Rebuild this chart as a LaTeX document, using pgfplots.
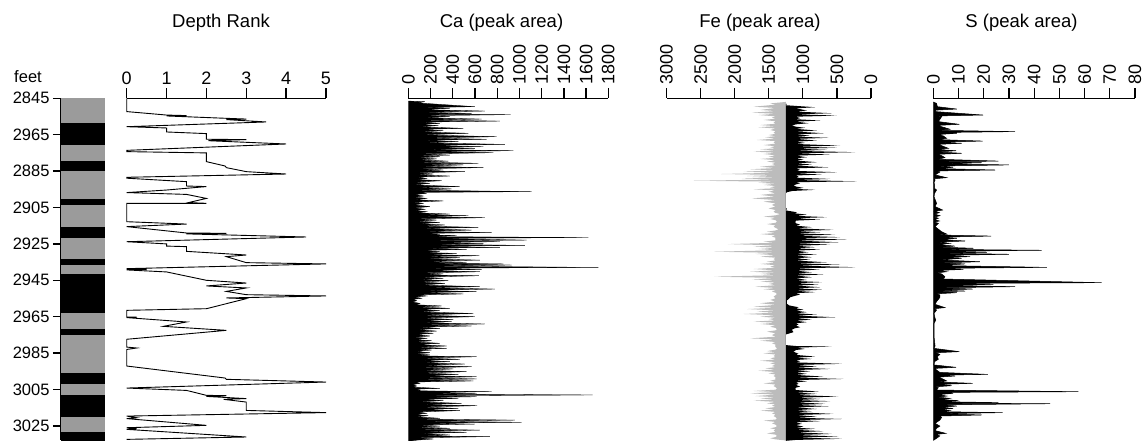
\documentclass[border=0pt]{standalone}
\usepackage{pgfplots}
\pgfplotsset{compat=1.18}
\usepackage{fontspec}
\setmainfont{Liberation Sans}
\definecolor{litho}{RGB}{155,155,155}
\definecolor{fegray}{RGB}{188,188,188}
\pgfplotsset{
  strip/.style={
    anchor=north west, scale only axis, height=341.7pt,
    ymin=2845, ymax=3032.75, y dir=reverse,
    axis x line*=top, axis y line=none,
    x axis line style={line width=1.3pt,-},
    tick align=outside, major tick length=10pt,
    tick style={line width=1.3pt, black},
    ytick=\empty,
    xticklabel style={font=\fontsize{18}{19}\selectfont},
    /pgf/number format/assume math mode=true,
    /pgf/number format/1000 sep={},
  },
  rotlab/.style={xticklabel style={rotate=90, anchor=west}},
}
\begin{document}
\begin{tikzpicture}
% ---------------- lithology column
\begin{axis}[at={(61pt,341.7pt)}, anchor=north west, scale only axis,
  width=44pt, height=341.7pt, xmin=0, xmax=1,
  ymin=2845, ymax=3032.75, y dir=reverse,
  axis y line*=left, axis x line=none,
  y axis line style={line width=1.6pt,-},
  tick align=outside, major tick length=8pt,
  tick style={line width=1.5pt, black},
  xtick=\empty,
  ytick={2845,2865,2885,2905,2925,2945,2965,2985,3005,3025},
  yticklabels={2845,2965,2885,2905,2925,2945,2965,2985,3005,3025},
  yticklabel style={font=\fontsize{16.5}{18}\selectfont},
  clip=true]
\addplot[fill=litho, draw=none] coordinates {(0,2845) (1,2845) (1,3034) (0,3034)} -- cycle;
\addplot[fill=black, draw=none] coordinates {(0,2858.4) (1,2858.4) (1,2870.6) (0,2870.6)} -- cycle;
\addplot[fill=black, draw=none] coordinates {(0,2879.4) (1,2879.4) (1,2885.2) (0,2885.2)} -- cycle;
\addplot[fill=black, draw=none] coordinates {(0,2900.3) (1,2900.3) (1,2903.5) (0,2903.5)} -- cycle;
\addplot[fill=black, draw=none] coordinates {(0,2915.7) (1,2915.7) (1,2921.7) (0,2921.7)} -- cycle;
\addplot[fill=black, draw=none] coordinates {(0,2933.1) (1,2933.1) (1,2936.4) (0,2936.4)} -- cycle;
\addplot[fill=black, draw=none] coordinates {(0,2941.8) (1,2941.8) (1,2963.2) (0,2963.2)} -- cycle;
\addplot[fill=black, draw=none] coordinates {(0,2972.0) (1,2972.0) (1,2975.3) (0,2975.3)} -- cycle;
\addplot[fill=black, draw=none] coordinates {(0,2996.1) (1,2996.1) (1,3002.1) (0,3002.1)} -- cycle;
\addplot[fill=black, draw=none] coordinates {(0,3008.2) (1,3008.2) (1,3020.3) (0,3020.3)} -- cycle;
\addplot[fill=black, draw=none] coordinates {(0,3028.6) (1,3028.6) (1,3034) (0,3034)} -- cycle;
\end{axis}

% ---------------- depth rank
\begin{axis}[strip, at={(126.7pt,341.7pt)}, width=199.3pt,
  xmin=0, xmax=5, xtick={0,1,2,3,4,5}, clip=false]
\addplot[black, line width=0.9pt] table {
0 2845.0
0 2852.3
1.0 2854.2
1.5 2854.5
1.0 2854.7
2.5 2856.0
3.0 2856.4
2.5 2856.7
3.5 2858.0
0 2860.6
1.0 2861.3
1.0 2863.5
2.0 2864.4
2.0 2867.5
3.0 2867.7
2.05 2868.3
4.0 2870.1
0 2873.6
0 2874.3
2.0 2875.0
2.0 2879.8
2.47 2882.2
2.5 2883.1
3.0 2885.3
4.0 2886.6
0 2888.4
0 2888.9
1.5 2890.8
1.5 2893.2
2.0 2893.5
1.0 2895.4
0 2896.8
1.5 2897.8
2.0 2900.0
1.55 2902.3
2.0 2902.7
0 2902.7
0 2912.8
1.5 2914.1
0 2915.5
1.5 2919.0
2.5 2919.2
1.5 2919.5
4.5 2921.2
0 2923.8
1.0 2925.0
1.0 2926.2
1.5 2926.5
1.5 2929.1
3.0 2931.1
2.5 2932.0
3.0 2935.3
5.0 2936.0
0 2938.6
0.5 2939.0
0 2939.3
1.0 2940.4
2.0 2945.0
3.0 2946.5
2.0 2948.1
3.0 2949.2
2.5 2951.1
3.0 2952.9
5.0 2953.6
2.5 2954.7
3.0 2955.1
2.0 2960.6
0 2961.5
0 2965.2
0.25 2965.2
0 2965.5
1.5 2967.9
0.92 2970.3
2.5 2972.5
0 2977.4
0 2981.7
0.25 2982.2
0 2983.0
0 2992.1
2.47 2998.7
2.5 2999.4
5.0 3000.9
0 3004.2
1.5 3005.5
2.0 3008.2
2.5 3008.4
2.0 3008.8
3.0 3010.0
2.43 3010.4
3.0 3011.9
3.0 3016.5
5.0 3017.7
0 3019.6
0.25 3020.5
0 3021.0
2.0 3024.7
0 3026.0
0.25 3026.5
0 3026.9
3.0 3031.1
0 3032.4
};
\end{axis}

% ---------------- Ca
\begin{axis}[strip, rotlab, at={(408.3pt,341.7pt)}, width=200pt,
  xmin=0, xmax=1800, xtick={0,200,...,1800}]
\addplot[fill=black, draw=black, line width=0.3pt] table {
0 2846.5
150 2846.85
80 2847.5
600 2849.6
120 2850.1
375 2850.5
110 2851.2
690 2852.0
120 2852.6
570 2853.3
110 2853.7
920 2854.0
120 2854.5
375 2855.1
110 2855.7
660 2856.4
120 2857.0
825 2857.5
110 2858.1
285 2858.8
100 2859.4
270 2860.0
100 2860.7
495 2861.5
110 2862.1
315 2862.8
120 2863.5
540 2864.2
130 2865.1
795 2866.1
140 2866.8
705 2867.5
130 2868.1
450 2868.8
140 2869.5
870 2870.3
150 2870.9
675 2871.6
140 2872.0
600 2872.5
150 2873.1
945 2873.8
140 2874.3
765 2874.9
120 2875.5
375 2876.2
100 2876.6
285 2877.1
90 2877.7
255 2878.3
90 2878.9
360 2879.5
100 2880.1
630 2880.7
110 2881.1
495 2881.6
100 2882.3
675 2883.1
90 2883.7
315 2884.4
90 2884.8
510 2885.3
80 2885.9
225 2886.6
80 2887.1
375 2887.7
70 2888.3
165 2889.0
70 2889.6
300 2890.3
60 2891.0
195 2891.7
60 2892.6
465 2893.5
70 2894.1
390 2894.8
70 2895.5
1110 2896.3
70 2896.7
165 2897.2
60 2897.9
135 2898.7
60 2899.3
165 2900.0
60 2900.7
315 2901.4
50 2902.0
135 2902.7
60 2903.6
195 2904.5
60 2905.2
150 2906.0
60 2906.6
165 2907.3
70 2907.9
375 2908.6
90 2909.0
540 2909.5
100 2910.0
690 2910.6
90 2911.2
255 2911.9
80 2912.5
285 2913.2
100 2913.9
330 2914.6
110 2915.2
630 2915.9
120 2916.6
570 2917.4
120 2918.1
750 2918.8
110 2919.2
285 2919.7
120 2920.0
435 2920.4
130 2921.0
1620 2921.5
140 2922.0
1065 2922.9
150 2923.3
825 2923.8
150 2924.2
675 2924.7
150 2925.2
1050 2925.8
150 2926.3
825 2926.9
140 2927.4
525 2928.0
120 2928.6
285 2929.3
110 2929.7
435 2930.2
130 2930.8
640 2931.5
130 2932.0
465 2932.6
130 2933.2
645 2933.9
140 2934.5
525 2935.1
140 2935.5
855 2936.0
140 2936.2
930 2936.6
150 2937.2
1710 2937.9
150 2938.4
660 2939.0
140 2939.6
645 2940.3
130 2940.9
315 2941.5
120 2942.0
636 2942.5
120 2943.2
315 2943.9
110 2944.5
360 2945.2
110 2945.9
330 2946.7
120 2947.6
645 2948.5
130 2949.1
780 2949.8
130 2950.5
615 2951.2
120 2951.8
495 2952.5
90 2953.0
165 2953.6
60 2954.2
120 2954.9
40 2955.5
75 2956.2
40 2956.9
105 2957.7
60 2958.4
300 2959.1
90 2959.7
375 2960.4
100 2961.0
285 2961.7
110 2962.4
585 2963.2
120 2964.1
600 2965.0
120 2965.7
405 2966.5
110 2967.1
390 2967.7
120 2968.3
690 2969.0
120 2969.5
570 2970.1
100 2970.7
285 2971.4
90 2972.1
255 2972.9
80 2973.5
225 2974.1
70 2974.8
195 2975.6
60 2976.2
165 2976.9
60 2977.5
210 2978.2
70 2978.9
285 2979.6
80 2980.3
345 2981.1
90 2981.7
345 2982.4
80 2982.8
210 2983.3
70 2984.0
195 2984.8
70 2985.4
195 2986.0
80 2986.5
615 2987.0
110 2987.7
465 2988.4
110 2989.0
375 2989.7
110 2990.3
510 2991.0
120 2991.7
570 2992.5
120 2993.1
405 2993.7
120 2994.4
525 2995.2
120 2995.9
450 2996.7
130 2997.3
615 2998.0
130 2998.6
615 2999.2
120 2999.7
585 3000.3
60 3000.9
105 3001.6
40 3002.3
75 3003.1
40 3003.7
285 3004.4
60 3004.8
105 3005.3
80 3005.7
750 3006.2
100 3006.6
615 3007.1
100 3007.5
1660 3008.0
110 3008.4
615 3009.0
110 3009.4
450 3009.9
110 3010.5
315 3011.1
100 3011.8
480 3012.6
110 3013.2
620 3013.9
110 3014.6
450 3015.4
110 3016.0
465 3016.6
90 3017.3
165 3018.1
60 3018.7
180 3019.4
60 3020.0
285 3020.8
90 3021.3
960 3021.8
110 3022.4
1020 3023.0
110 3023.5
600 3024.0
90 3024.5
285 3025.1
90 3025.7
375 3026.3
100 3026.8
645 3027.3
110 3027.9
525 3028.5
110 3029.2
375 3030.0
100 3030.5
735 3030.9
90 3031.5
225 3032.2
80 3032.8
0 3033.5
} -- cycle;
\end{axis}

% ---------------- Fe
\begin{axis}[strip, rotlab, at={(666.5pt,341.7pt)}, width=204.5pt,
  x dir=reverse, xmin=0, xmax=3000, xtick={0,500,...,3000}]
\addplot[fill=fegray, draw=none] table {
1250 2847.0
1478 2847.8
1400 2848.5
1722 2849.6
1400 2850.3
1624 2851.4
1400 2852.0
1746 2852.9
1400 2853.5
1649 2854.2
1400 2854.9
1454 2855.6
1400 2856.2
1576 2856.9
1400 2857.6
1429 2858.4
1400 2859.0
1624 2859.7
1400 2860.3
1649 2860.9
1400 2861.6
1478 2862.4
1400 2863.1
1429 2863.9
1400 2864.5
1502 2865.2
1400 2865.8
1551 2866.4
1400 2867.1
1673 2867.9
1400 2868.5
1429 2869.2
1400 2869.9
1576 2870.7
1400 2871.3
1478 2871.9
1400 2872.5
1624 2873.0
1400 2873.6
1722 2874.3
1400 2874.9
1576 2875.6
1400 2876.3
1502 2877.1
1400 2877.7
1624 2878.3
1400 2879.0
1527 2879.8
1400 2880.4
1454 2881.1
1400 2881.8
1624 2882.6
1400 2883.3
1771 2884.0
1400 2884.6
1868 2885.3
1400 2885.9
2200 2886.6
1400 2887.1
1819 2887.7
1400 2888.3
1893 2889.0
1400 2889.6
2600 2890.3
1400 2890.8
1649 2891.4
1400 2892.0
1576 2892.6
1400 2893.2
1478 2893.9
1400 2894.4
1722 2895.0
1400 2895.6
1502 2896.3
1400 2897.2
1624 2898.1
1400 2899.0
1746 2900.0
1400 2900.9
1576 2901.8
1400 2902.7
1454 2903.6
1400 2904.5
1502 2905.5
1400 2906.4
1429 2907.3
1400 2908.0
1332 2908.6
1400 2909.3
1576 2910.0
1400 2910.6
1478 2911.3
1400 2912.0
1380 2912.8
1400 2913.4
1527 2914.1
1400 2914.8
1429 2915.5
1400 2916.2
1356 2917.0
1400 2917.6
1527 2918.3
1400 2919.0
1624 2919.6
1400 2920.3
1454 2921.0
1400 2921.6
1405 2922.3
1400 2923.0
1576 2923.8
1400 2924.4
2100 2925.1
1400 2925.8
1722 2926.5
1400 2927.1
1649 2927.8
1400 2928.5
2300 2929.3
1400 2929.9
1698 2930.5
1400 2931.2
1624 2932.0
1400 2932.6
1429 2933.3
1400 2934.0
1527 2934.8
1400 2935.4
1624 2936.0
1400 2936.7
1478 2937.5
1400 2938.1
1722 2938.8
1400 2939.5
1771 2940.3
1400 2940.9
1624 2941.5
1400 2942.2
2300 2943.0
1400 2943.7
1746 2944.5
1400 2945.1
1624 2945.7
1400 2946.3
1502 2947.0
1400 2947.7
1698 2948.5
1400 2949.2
1576 2949.9
1400 2950.5
1454 2951.2
1400 2951.8
1380 2952.5
1400 2953.2
1429 2954.0
1400 2954.9
1478 2955.8
1400 2956.7
1624 2957.6
1400 2958.5
1722 2959.5
1400 2960.1
1819 2960.8
1400 2961.5
1673 2962.2
1400 2962.8
1868 2963.5
1400 2964.2
1624 2965.0
1400 2965.6
1502 2966.3
1400 2967.0
1722 2967.7
1400 2968.3
1624 2969.0
1400 2969.7
1478 2970.5
1400 2971.2
1380 2971.9
1400 2972.5
1527 2973.2
1400 2974.1
1454 2975.1
1400 2976.0
1771 2976.9
1400 2977.5
1624 2978.2
1400 2978.9
1454 2979.6
1400 2980.3
1405 2981.1
1400 2981.7
1380 2982.4
1400 2983.1
1527 2983.9
1400 2984.5
1576 2985.1
1400 2985.8
1429 2986.6
1400 2987.2
1478 2987.9
1400 2988.5
1624 2989.2
1400 2989.9
1478 2990.6
1400 2991.3
1454 2992.1
1400 2992.7
1551 2993.4
1400 2994.0
1649 2994.7
1400 2995.4
1502 2996.1
1400 2996.8
1429 2997.6
1400 2998.2
1405 2998.9
1400 2999.5
1478 3000.2
1400 3000.9
1576 3001.6
1400 3002.3
1429 3003.1
1400 3003.7
1380 3004.4
1400 3005.1
1722 3005.8
1400 3006.4
1771 3007.1
1400 3007.8
1698 3008.6
1400 3009.2
1624 3009.9
1400 3010.5
1722 3011.1
1400 3011.8
1527 3012.6
1400 3013.2
1454 3013.9
1400 3014.6
1551 3015.4
1400 3016.0
1624 3016.6
1400 3017.3
1454 3018.1
1400 3018.8
1429 3019.6
1400 3020.2
1380 3020.9
1400 3021.5
1576 3022.1
1400 3022.8
1454 3023.6
1400 3024.3
1380 3025.1
1400 3025.7
1478 3026.3
1400 3026.9
1429 3027.6
1400 3028.3
1527 3029.1
1400 3029.8
1380 3030.5
1400 3031.1
1478 3031.8
1400 3032.4
1250 3033.0
} -- cycle;
\addplot[fill=black, draw=none] table {
1250 2848.0
1234 2848.1
1250 2848.8
819 2849.9
1100 2850.5
941 2851.7
1100 2852.3
576 2853.2
1100 2853.8
502 2854.5
1100 2855.1
1039 2855.9
1100 2856.5
746 2857.2
1100 2857.8
917 2858.7
1100 2859.3
1161 2860.0
1100 2860.6
966 2861.2
1100 2861.8
795 2862.7
1100 2863.3
698 2864.2
1100 2864.8
893 2865.5
1100 2866.1
624 2866.7
1100 2867.3
795 2868.2
1100 2868.8
966 2869.5
1100 2870.1
454 2871.0
1100 2871.5
502 2872.2
1100 2872.7
649 2873.3
1100 2873.9
234 2874.6
1100 2875.2
600 2875.9
1100 2876.5
941 2877.4
1100 2877.9
990 2878.6
1100 2879.2
795 2880.1
1100 2880.7
868 2881.4
1100 2882.0
624 2882.9
1100 2883.5
1039 2884.3
1100 2884.9
502 2885.6
1100 2886.2
722 2886.9
1100 2887.4
1063 2888.0
1100 2888.6
600 2889.3
1100 2889.9
210 2890.6
1100 2891.1
1039 2891.7
1100 2892.3
1137 2892.9
1100 2893.5
990 2894.2
1100 2894.8
819 2895.3
1150 2895.9
1234 2896.6
1250 2897.2
1250 2905.0
1234 2905.8
1250 2906.6
1088 2907.6
1120 2908.2
941 2908.9
1100 2909.6
649 2910.3
1100 2910.9
746 2911.6
1100 2912.2
1112 2913.1
1100 2913.7
1039 2914.4
1100 2915.0
868 2915.8
1100 2916.4
551 2917.3
1100 2917.9
746 2918.6
1100 2919.2
527 2919.9
1100 2920.5
454 2921.3
1100 2921.9
356 2922.6
1100 2923.2
478 2924.1
1100 2924.7
600 2925.4
1100 2926.0
819 2926.8
1100 2927.4
746 2928.1
1100 2928.7
917 2929.6
1100 2930.2
795 2930.8
1100 2931.4
868 2932.3
1100 2932.9
893 2933.6
1100 2934.2
649 2935.1
1100 2935.7
454 2936.3
1100 2936.9
234 2937.8
1100 2938.4
746 2939.1
1100 2939.7
868 2940.6
1100 2941.2
698 2941.8
1100 2942.4
868 2943.3
1100 2943.9
941 2944.8
1100 2945.4
722 2946.0
1100 2946.6
771 2947.3
1100 2947.9
746 2948.8
1100 2949.4
722 2950.2
1100 2950.8
819 2951.5
1100 2952.1
1039 2952.8
1100 2953.4
1185 2954.3
1200 2955.0
1234 2956.1
1234 2957.9
1200 2958.8
1063 2959.8
1100 2960.4
990 2961.1
1100 2961.7
941 2962.5
1100 2963.1
795 2963.8
1100 2964.4
527 2965.3
1100 2965.9
868 2966.6
1100 2967.2
941 2968.0
1100 2968.6
1063 2969.3
1100 2969.9
1039 2970.8
1120 2971.4
1161 2972.2
1137 2973.5
1200 2974.2
1250 2974.8
1250 2980.6
1100 2981.1
576 2981.4
1100 2982.0
966 2982.7
1100 2983.3
1137 2984.2
1100 2984.8
1063 2985.4
1100 2986.0
819 2986.9
1100 2987.5
868 2988.2
1100 2988.8
1039 2989.5
1100 2990.1
429 2990.9
1100 2991.5
795 2992.4
1100 2993.0
600 2993.7
1100 2994.3
893 2995.0
1100 2995.6
941 2996.4
1100 2997.0
698 2997.9
1100 2998.5
405 2999.2
1100 2999.8
941 3000.5
1100 3001.1
1063 3001.9
1100 3002.5
1039 3003.4
1100 3004.0
1112 3004.7
1100 3005.3
771 3006.1
1100 3006.7
795 3007.4
1100 3008.0
478 3008.9
1100 3009.5
746 3010.2
1100 3010.8
600 3011.4
1100 3012.0
673 3012.9
1100 3013.5
624 3014.2
1100 3014.8
795 3015.7
1100 3016.3
868 3016.9
1100 3017.5
551 3018.4
1100 3019.0
795 3019.9
1100 3020.5
429 3021.2
1100 3021.8
746 3022.4
1100 3023.0
1015 3023.9
1100 3024.5
990 3025.4
1100 3026.0
819 3026.6
1100 3027.2
698 3027.9
1100 3028.5
576 3029.4
1100 3030.0
478 3030.8
1100 3031.4
429 3032.1
1100 3032.7
1250 3033.2
} -- cycle;
\end{axis}

% ---------------- S
\begin{axis}[strip, rotlab, at={(933.3pt,341.7pt)}, width=201.7pt,
  xmin=0, xmax=80, xtick={0,10,...,80}]
\addplot[fill=black, draw=black, line width=0.5pt] table {
0 2847.0
1.3 2847.8
1.6 2849.6
9.3 2850.9
1 2851.5
0.7 2852.3
19.8 2854.2
1.5 2854.7
3.3 2855.1
2.6 2856.6
2.0 2857.8
10.3 2859.3
1.5 2859.9
3.3 2860.6
6.6 2862.0
2 2862.6
32.4 2863.3
2 2863.8
9.3 2864.2
2 2864.9
4.0 2865.7
5.3 2867.0
2 2867.7
19.6 2868.5
2 2869.1
11.2 2869.7
2 2870.3
3.3 2871.0
6.0 2872.5
1.5 2873.1
9.0 2873.8
2 2874.5
11.2 2875.2
1.5 2875.8
3.3 2876.5
4.6 2877.6
2 2878.5
25.8 2879.5
3 2879.9
19.2 2880.4
3 2881.0
30.0 2881.6
2 2882.2
7.9 2882.9
2 2883.6
24.5 2884.4
1.5 2884.9
2.6 2885.5
0.7 2887.1
5.3 2888.6
0.5 2889.2
0.7 2889.9
0.3 2891.3
0.5 2892.6
0.5 2894.5
1.3 2895.4
0.5 2897.2
0.3 2899.1
1.3 2902.7
0.7 2904.5
3.7 2906.4
0.5 2907.1
2.4 2907.8
0.5 2908.6
2.6 2909.5
0.5 2910.2
2.0 2910.9
0.5 2911.6
2.4 2912.4
0.5 2913.0
2.0 2913.7
0.7 2915.5
3.3 2918.3
5.3 2919.6
2 2920.1
22.9 2920.7
3 2921.3
9.3 2921.9
3 2922.6
12.6 2923.4
2 2924.0
6.6 2924.7
2 2925.4
8.6 2926.2
3 2926.8
15.9 2927.4
3 2928.0
43.0 2928.5
4 2929.0
21.2 2929.6
3 2930.1
30.0 2930.7
3 2931.3
14.6 2932.0
3 2932.5
11.2 2932.9
3 2933.8
18.5 2934.8
3 2935.4
12.6 2936.0
3 2936.9
45.0 2937.9
3 2938.4
11.9 2939.0
2 2939.6
5.3 2940.3
1.5 2940.9
3.3 2941.5
4.6 2943.0
4.0 2944.3
66.8 2946.3
4 2946.7
23.8 2947.2
4 2947.8
32.4 2948.5
3 2949.1
15.6 2949.8
3 2950.4
12.6 2950.9
2 2951.3
9.3 2951.8
1.5 2952.4
2.6 2953.1
2.6 2954.4
2.0 2955.5
1.3 2956.7
0.7 2958.2
4.6 2960.0
0.5 2960.6
1.3 2961.3
0.3 2963.2
0.7 2965.9
1.0 2966.8
0.3 2968.7
0.3 2972.3
0.3 2976.0
0.7 2981.1
0.3 2982.4
10.3 2984.2
1 2984.8
2.6 2985.7
1.6 2987.0
2.0 2988.4
0.5 2989.7
0.3 2991.5
9.0 2992.8
0.7 2993.4
1.3 2994.3
2.6 2995.6
21.6 2996.7
2 2997.1
8.6 2997.6
2 2998.2
3.3 2998.9
5.3 3000.3
2 3000.9
15.6 3001.6
2 3002.2
7.3 3002.9
1 3003.5
2.0 3004.0
1.3 3005.3
57.5 3006.2
2 3006.6
7.9 3007.1
2 3007.8
5.3 3008.6
2 3009.2
6.6 3009.9
3 3010.5
9.9 3011.1
3 3011.7
25.8 3012.2
4 3012.5
46.3 3012.8
4 3013.4
9.3 3014.1
3 3014.8
7.9 3015.4
3 3016.0
6.6 3016.6
3 3017.2
27.5 3017.7
3 3018.3
19.2 3019.0
2 3019.6
3.3 3020.3
2.6 3021.8
0.7 3023.6
2.6 3025.1
1.3 3026.3
0.7 3027.6
5.0 3029.1
1 3029.7
2.6 3030.5
1.3 3031.8
0 3033.0
} -- cycle;
\end{axis}

% ---------------- titles
\node[font=\fontsize{18.5}{20}\selectfont] at (221pt,417pt) {Depth Rank};
\node[font=\fontsize{18.5}{20}\selectfont] at (501.5pt,417pt) {Ca (peak area)};
\node[font=\fontsize{18.5}{20}\selectfont] at (760pt,417pt) {Fe (peak area)};
\node[font=\fontsize{18.5}{20}\selectfont] at (1021.5pt,417pt) {S (peak area)};
\node[font=\fontsize{16.5}{18}\selectfont] at (28pt,363.3pt) {feet};

\pgfresetboundingbox
\useasboundingbox (0,0) rectangle (1144pt,440pt);
\end{tikzpicture}
\end{document}
